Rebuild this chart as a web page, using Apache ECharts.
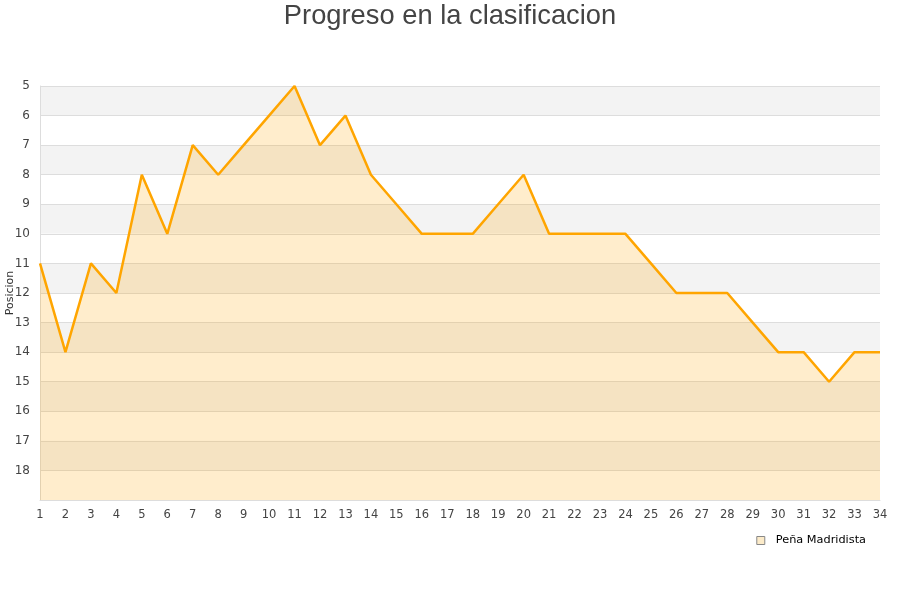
<!DOCTYPE html>
<html>
<head>
<meta charset="utf-8">
<script src="https://cdn.jsdelivr.net/npm/echarts@6/dist/echarts.min.js"></script>
<style>
  html, body { margin: 0; padding: 0; background: #fff; }
  #chart { width: 900px; height: 600px; }
</style>
</head>
<body>
<div id="chart"></div>
<script>
// jornadas y posiciones
var jornadas = [];
for (var j = 1; j <= 34; j++) jornadas.push(String(j));
var posiciones = [11, 14, 11, 12, 8, 10, 7, 8, 7, 6, 5, 7, 6, 8, 9, 10, 10, 10, 9, 8,
                  10, 10, 10, 10, 11, 12, 12, 12, 13, 14, 14, 15, 14, 14];
var equipo = 'Peña Madridista';

var myChart = echarts.init(document.getElementById('chart'));
var option = {
    animation: false,
    title: {
        text: 'Progreso en la clasificacion',
        left: 'center',
        top: -2,
        textStyle: { fontFamily: 'Liberation Sans', fontSize: 27.3, fontWeight: 'normal', color: '#444' }
    },
    grid: { left: 40, right: 20, top: 86, bottom: 100, outerBoundsMode: 'none', containLabel: false },
    legend: {
        data: [equipo],
        right: 29,
        top: 530,
        icon: 'rect',
        itemWidth: 8,
        itemHeight: 8,
        textStyle: { fontFamily: 'DejaVu Sans', fontSize: 11.3, color: '#000', padding: [0, 0, 0, 6] },
        itemStyle: { color: '#fcebc9', borderColor: '#888', borderWidth: 1 }
    },
    xAxis: {
        type: 'category',
        data: jornadas,
        boundaryGap: false,
        axisLine: { lineStyle: { color: '#ddd' } },
        axisTick: { show: false },
        axisLabel: { fontFamily: 'DejaVu Sans', fontSize: 11.5, color: '#444', margin: 9, interval: 0 },
        splitLine: { show: false }
    },
    yAxis: {
        type: 'value',
        name: 'Posicion',
        nameLocation: 'middle',
        nameGap: 24,
        nameMoveOverlap: false,
        nameTextStyle: { fontFamily: 'DejaVu Sans', fontSize: 11, color: '#333' },
        inverse: true,
        min: 5,
        max: 19,
        interval: 1,
        axisLine: { show: true, lineStyle: { color: '#ddd' } },
        axisTick: { show: false },
        axisLabel: {
            fontFamily: 'DejaVu Sans', fontSize: 12, color: '#444', margin: 10,
            formatter: function (v) { return v === 19 ? '' : v; }
        },
        splitLine: { lineStyle: { color: '#ddd' } },
        splitArea: { show: true, areaStyle: { color: ['#f3f3f3', '#ffffff'] } }
    },
    series: [{
        name: equipo,
        type: 'line',
        data: posiciones,
        symbol: 'none',
        lineStyle: { color: '#ffa500', width: 2.5 },
        itemStyle: { color: '#fcebc9' },
        areaStyle: { color: 'rgba(255,165,0,0.2)', opacity: 1, origin: 'end' }
    }]
};
myChart.setOption(option);
</script>
</body>
</html>
